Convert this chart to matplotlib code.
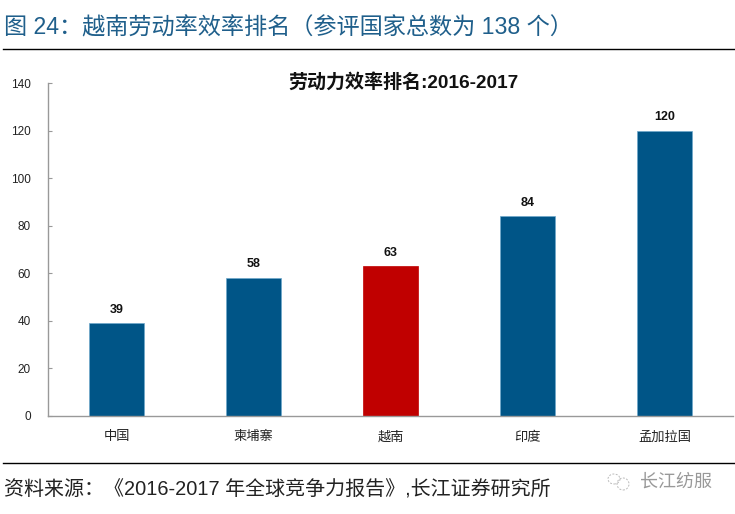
import matplotlib
matplotlib.use("Agg")
import matplotlib.pyplot as plt
from matplotlib.patches import Ellipse

plt.rcParams['font.family'] = ['Liberation Sans', 'Noto Sans CJK SC', 'DejaVu Sans']

countries = ['中国', '柬埔寨', '越南', '印度', '孟加拉国']
ranks = [39, 58, 63, 84, 120]
bar_colors = ['#005587', '#005587', '#C00000', '#005587', '#005587']
edge_colors = ['#6FA8CC', '#6FA8CC', '#C00000', '#6FA8CC', '#6FA8CC']
y_ticks = [0, 20, 40, 60, 80, 100, 120, 140]

W, H = 735, 514
fig = plt.figure(figsize=(W / 100, H / 100), dpi=100)

# axes box in pixels from the reference
ax = fig.add_axes([48 / W, 1 - 416 / H, (733 - 48) / W, (416 - 83) / H])
ax.bar(range(len(ranks)), ranks, width=0.4, color=bar_colors, edgecolor=edge_colors, linewidth=0.5)
ax.set_xlim(-0.5, 4.5)
ax.set_ylim(0, 140)
ax.set_yticks(y_ticks)
ax.set_xticks(range(len(countries)))
ax.set_xticklabels(countries, fontsize=9.5, color='#222222')
ax.tick_params(axis='y', labelsize=8.5, length=3, color='#999999', pad=12.5, labelcolor='#222222', direction='in')
ax.tick_params(axis='x', length=0, pad=11)
for side in ['top', 'right']:
    ax.spines[side].set_visible(False)
for side in ['left', 'bottom']:
    ax.spines[side].set_color('#999999')
    ax.spines[side].set_linewidth(1)

for i, v in enumerate(ranks):
    ax.annotate(str(v), (i, v), xytext=(0, 5.5), textcoords='offset points', ha='center', va='bottom',
                fontsize=9, fontweight='bold', color='#111111')

# header, footer and rules
fig.text(4 / W, 1 - 28 / H, '图 24：越南劳动率效率排名（参评国家总数为 138 个）', fontsize=16.7,
         color='#1F5F8B', va='center', ha='left')
fig.add_artist(plt.Line2D([3 / W, 1], [1 - 48.5 / H, 1 - 48.5 / H], color='black', lw=1))
fig.text(403.5 / W, 1 - 82 / H, '劳动力效率排名:2016-2017', fontsize=13.7, fontweight='bold',
         color='#111111', va='center', ha='center')
fig.add_artist(plt.Line2D([3 / W, 1], [1 - 463 / H, 1 - 463 / H], color='black', lw=1))
fig.text(4 / W, 1 - 490 / H, '资料来源：《2016-2017 年全球竞争力报告》,长江证券研究所', fontsize=14.4,
         color='#222222', va='center', ha='left')
fig.text(712 / W, 1 - 482 / H, '长江纺服', fontsize=13, color='#999999', va='center', ha='right')

# faint wechat style logo next to the watermark
for cx, cy, rx, ry in [(614, 479, 6, 5), (623, 484, 6, 6)]:
    fig.add_artist(Ellipse((cx / W, 1 - cy / H), 2 * rx / W, 2 * ry / H, transform=fig.transFigure,
                           fill=False, edgecolor='#BBBBBB', lw=0.7, ls=(0, (2, 1.5))))

fig.savefig('out.png', dpi=100)
